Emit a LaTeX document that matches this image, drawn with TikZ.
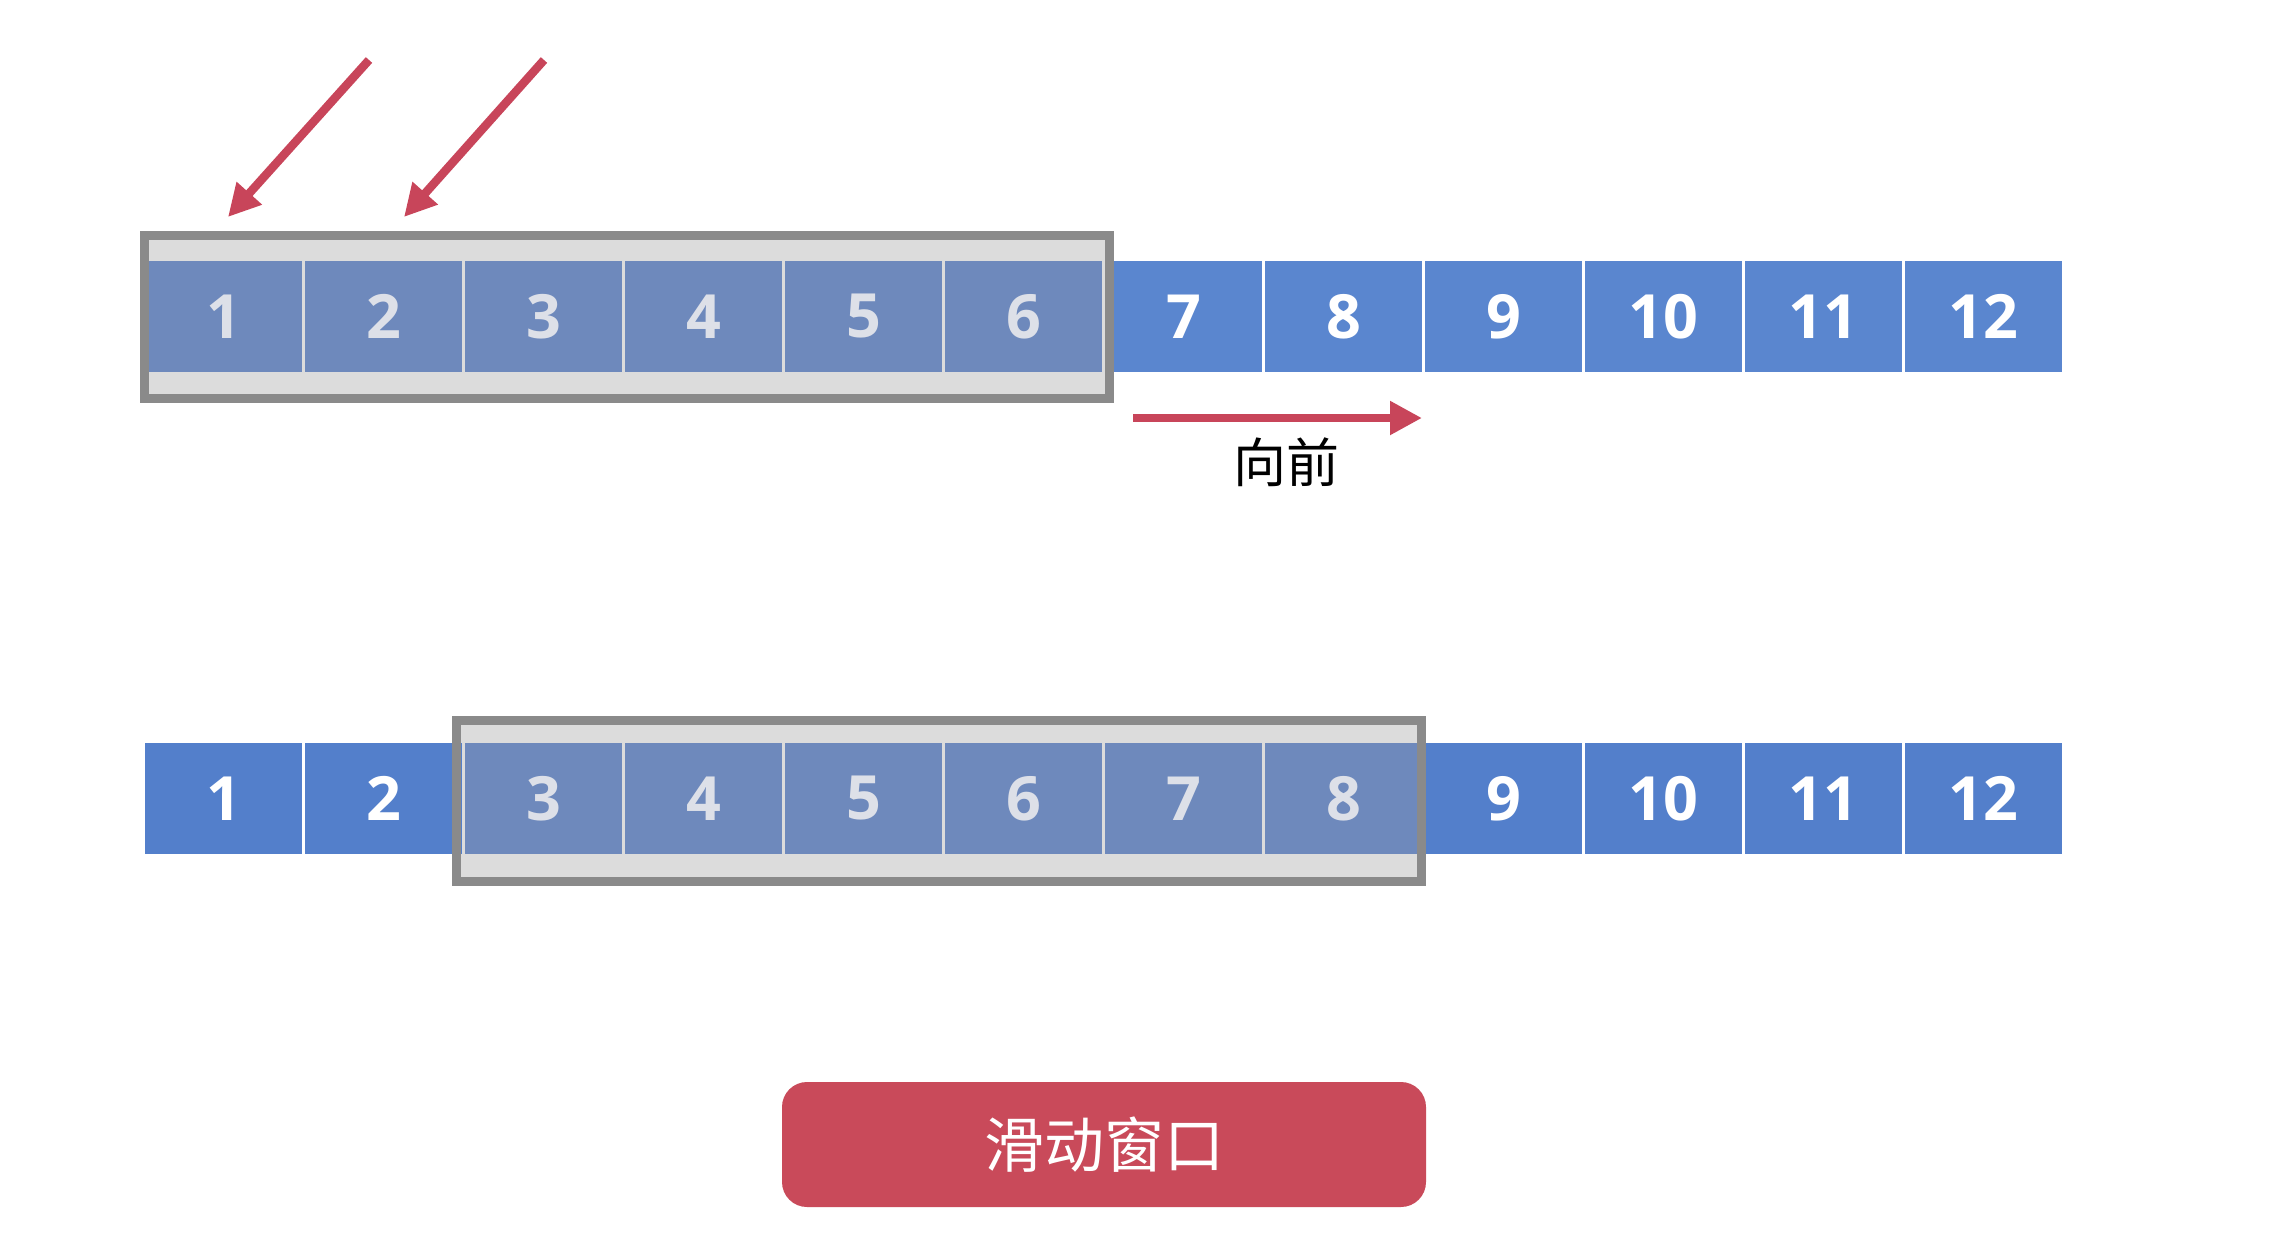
\documentclass[tikz,border=0pt]{standalone}
\usepackage{fontspec}
\newfontfamily\cjk{Noto Sans CJK SC}
\newfontfamily\digitfont{Open Sans}
\usetikzlibrary{arrows.meta}
\definecolor{cellblue}{HTML}{5A86CF}
\definecolor{cellblueb}{HTML}{537FCB}
\definecolor{cellwin}{HTML}{6E89BC}
\definecolor{digwin}{HTML}{DDE0E8}
\definecolor{winfill}{HTML}{DCDCDC}
\definecolor{winborder}{HTML}{8A8A8A}
\definecolor{arrred}{HTML}{C8455A}
\definecolor{btnred}{HTML}{C94A5A}
\begin{document}
\begin{tikzpicture}[x=1pt,y=-1pt,
  cell/.style={rectangle, fill=cellblue, minimum width=157pt, minimum height=111pt, inner sep=0pt, text=white, font=\digitfont\bfseries\fontsize{61}{61}\selectfont},
  bcell/.style={cell, fill=cellblueb},
  wcell/.style={cell, fill=cellwin, text=digwin},
  winfillst/.style={fill=winfill},
  winborderst/.style={draw=winborder, line width=9pt},
  redarrow/.style={draw=arrred, line width=8.5pt, -{Triangle[length=32pt,width=32pt]}},
  ]
\useasboundingbox[fill=white] (0,0) rectangle (2280,1234);

% windows (fill behind the cells)
\fill[winfillst] (144.5,235.5) rectangle (1109.5,398.5);
\fill[winfillst] (456.5,720.5) rectangle (1421.5,881.5);

% top row
\foreach \i in {1,...,12}{
  \pgfmathsetmacro{\cx}{223.5+160*(\i-1)}
  \ifnum\i<7
    \node[wcell] (t\i) at (\cx,316.5) {\i};
  \else
    \node[cell] (t\i) at (\cx,316.5) {\i};
  \fi
}
% bottom row
\foreach \i in {1,...,12}{
  \pgfmathsetmacro{\cx}{223.5+160*(\i-1)}
  \ifnum\i<3
    \node[bcell] (b\i) at (\cx,798.5) {\i};
  \else\ifnum\i<9
    \node[wcell] (b\i) at (\cx,798.5) {\i};
  \else
    \node[bcell] (b\i) at (\cx,798.5) {\i};
  \fi\fi
}

% window borders
\draw[winborderst] (144.5,235.5) rectangle (1109.5,398.5);
\draw[winborderst] (456.5,720.5) rectangle (1421.5,881.5);

% pointer arrows
\coordinate (p1) at (369,60);
\coordinate (q1) at (228,217);
\coordinate (p2) at (544,60);
\coordinate (q2) at (404,217);
\draw[redarrow] (p1) -- (q1);
\draw[redarrow] (p2) -- (q2);

% forward arrow
\coordinate (f0) at (1133,418);
\coordinate (f1) at (1422,418);
\draw[redarrow] (f0) -- (f1);
\node[font=\cjk\fontsize{53}{53}\selectfont, text=black, inner sep=0pt] (fwd) at (1286,462) {向前};

% button
\node[fill=btnred, rounded corners=25pt, minimum width=644pt, minimum height=125pt, inner sep=0pt, text=white, font=\cjk\fontsize{60}{60}\selectfont] (btn) at (1104,1144.5) {滑动窗口};
\end{tikzpicture}
\end{document}
